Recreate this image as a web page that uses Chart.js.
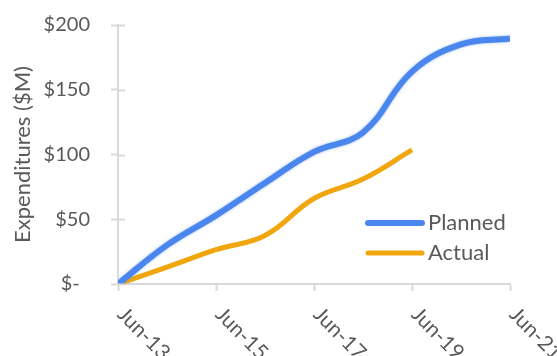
<!DOCTYPE html>
<html>
<head>
<meta charset="utf-8">
<script src="https://cdn.jsdelivr.net/npm/chart.js@4/dist/chart.umd.min.js"></script>
<style>
  html, body { margin: 0; padding: 0; background: #fff; }
  #wrap { width: 557px; height: 356px; }
</style>
</head>
<body>
<div id="wrap"><canvas id="lineChart"></canvas></div>
<script>
// Data (yearly, June)
const categories = ['Jun-13', 'Jun-14', 'Jun-15', 'Jun-16', 'Jun-17', 'Jun-18', 'Jun-19', 'Jun-20', 'Jun-21'];
const planned = [0, 30, 53, 78, 102, 117, 164, 185, 189.5];
const actual = [0, 13, 26.5, 37.5, 66, 81, 103.5];
const yTicks = [0, 50, 100, 150, 200];
const yTickLabels = ['$-  ', '$50', '$100', '$150', '$200'];
const yTitle = 'Expenditures ($M)';

const fontFamily = 'Lato, "Open Sans", sans-serif';
const textColor = '#595959';
const axisColor = '#d9d9d9';

function toPoints(values) {
    return values.map((v, i) => ({ x: i, y: v }));
}

// soft glow on the planned line
const glowPlugin = {
    id: 'glow',
    beforeDatasetDraw(chart, args) {
        const ctx = chart.ctx;
        ctx.save();
        if (args.index === 0) {
            ctx.shadowColor = 'rgba(74, 134, 238, 0.55)';
            ctx.shadowBlur = 3;
        }
    },
    afterDatasetDraw(chart) {
        chart.ctx.restore();
    }
};

// inner half of the y tick marks, axis title, rotated x labels, legend inside plot
const extrasPlugin = {
    id: 'extras',
    afterDraw(chart) {
        const ctx = chart.ctx;
        const area = chart.chartArea;
        const yScale = chart.scales.y;
        const xScale = chart.scales.x;

        ctx.save();
        ctx.strokeStyle = axisColor;
        ctx.lineWidth = 2;
        yScale.ticks.forEach(t => {
            const py = Math.round(yScale.getPixelForValue(t.value)) + 0.5;
            ctx.beginPath();
            ctx.moveTo(area.left, py);
            ctx.lineTo(area.left + 7, py);
            ctx.stroke();
        });

        ctx.fillStyle = textColor;
        ctx.font = '22px ' + fontFamily;
        ctx.textAlign = 'center';
        ctx.textBaseline = 'middle';
        ctx.save();
        ctx.translate(23, (area.top + area.bottom) / 2);
        ctx.rotate(-Math.PI / 2);
        ctx.fillText(yTitle, 0, 0);
        ctx.restore();

        ctx.font = '21px ' + fontFamily;
        ctx.textAlign = 'left';
        xScale.ticks.forEach(t => {
            const px = xScale.getPixelForValue(t.value);
            ctx.save();
            ctx.translate(px + 3, area.bottom + 27);
            ctx.rotate(Math.PI / 4);
            ctx.fillText(categories[t.value], 0, 0);
            ctx.restore();
        });

        // legend
        ctx.font = '22px ' + fontFamily;
        const lx = area.right - 142;
        let ly = area.bottom - 61;
        chart.data.datasets.forEach(ds => {
            ctx.strokeStyle = ds.borderColor;
            ctx.lineWidth = ds.borderWidth;
            ctx.lineCap = 'round';
            ctx.beginPath();
            ctx.moveTo(lx, ly);
            ctx.lineTo(lx + 54, ly);
            ctx.stroke();
            ctx.fillStyle = textColor;
            ctx.fillText(ds.label, lx + 60, ly);
            ly += 30;
        });
        ctx.restore();
    }
};

const ctxLine = document.getElementById('lineChart').getContext('2d');
const lineChart = new Chart(ctxLine, {
    type: 'line',
    data: {
        datasets: [{
            label: 'Planned',
            data: toPoints(planned),
            borderColor: '#4a86ee',
            borderWidth: 6,
            tension: 0.4,
            pointRadius: 0,
            fill: false
        }, {
            label: 'Actual',
            data: toPoints(actual),
            borderColor: '#f1a60d',
            borderWidth: 5,
            tension: 0.4,
            pointRadius: 0,
            fill: false
        }]
    },
    options: {
        responsive: true,
        maintainAspectRatio: false,
        animation: false,
        layout: {
            padding: { top: 25, right: 47, left: 0, bottom: 0 }
        },
        plugins: {
            legend: { display: false },
            tooltip: { enabled: false }
        },
        scales: {
            x: {
                type: 'linear',
                min: 0,
                max: categories.length - 1,
                afterBuildTicks(scale) {
                    scale.ticks = categories.map((c, i) => ({ value: i })).filter(t => t.value % 2 === 0);
                },
                afterFit(scale) {
                    scale.height = 72;
                    scale.paddingTop = 0;
                    scale.paddingBottom = 0;
                },
                ticks: { display: false },
                grid: {
                    drawOnChartArea: false,
                    drawTicks: true,
                    tickLength: 7,
                    tickWidth: 2,
                    tickColor: axisColor
                },
                border: { color: axisColor, width: 2 }
            },
            y: {
                min: 0,
                max: 200,
                afterBuildTicks(scale) {
                    scale.ticks = yTicks.map(v => ({ value: v }));
                },
                afterFit(scale) {
                    scale.width = 118;
                    scale.paddingTop = 0;
                    scale.paddingBottom = 0;
                },
                ticks: {
                    padding: 21,
                    color: textColor,
                    font: { family: fontFamily, size: 20 },
                    callback: (value) => yTickLabels[yTicks.indexOf(value)]
                },
                grid: {
                    drawOnChartArea: false,
                    drawTicks: true,
                    tickLength: 7,
                    tickWidth: 2,
                    tickColor: axisColor
                },
                border: { color: axisColor, width: 2 }
            }
        }
    },
    plugins: [glowPlugin, extrasPlugin]
});
</script>
</body>
</html>
